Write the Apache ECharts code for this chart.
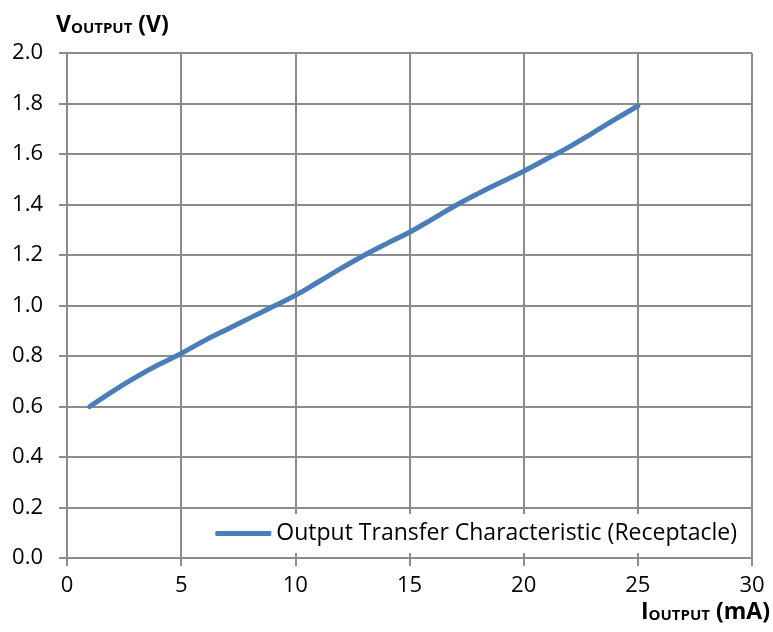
<!DOCTYPE html>
<html>
<head>
<meta charset="utf-8">
<script src="https://cdn.jsdelivr.net/npm/echarts@6/dist/echarts.min.js"></script>
<style>
  html, body { margin: 0; padding: 0; background: #fff; }
  #chart { width: 773px; height: 632px; }
</style>
</head>
<body>
<div id="chart"></div>
<script>
// data
const iOutput = [1, 2, 3, 4, 5, 6, 7, 8, 9, 10, 11, 12, 13, 14, 15, 16, 17, 18, 19, 20, 21, 22, 23, 24, 25];
const vOutput = [0.60, 0.66, 0.715, 0.765, 0.81, 0.86, 0.905, 0.95, 0.995, 1.04, 1.093, 1.147, 1.198, 1.245, 1.29, 1.342, 1.395, 1.443, 1.488, 1.532, 1.58, 1.628, 1.682, 1.737, 1.79];
const seriesName = 'Output Transfer Characteristic (Receptacle)';

const FONT = 'Open Sans';
const gridColor = '#8c8c8c';

const titleRich = {
    a: { fontFamily: FONT, fontSize: 23, fontWeight: 'bold', color: '#000', padding: [0, 0, 7, 0] },
    b: { fontFamily: FONT, fontSize: 15, fontWeight: 'bold', color: '#000' }
};

const chart = echarts.init(document.getElementById('chart'));
const option = {
    textStyle: { fontFamily: FONT },
    grid: { left: 67, right: 21, top: 53, bottom: 74 },
    legend: {
        data: [seriesName],
        right: 28,
        bottom: 79,
        backgroundColor: '#fff',
        padding: [8, 8, 8, 8],
        itemWidth: 56,
        itemHeight: 5,
        icon: 'roundRect',
        textStyle: { fontFamily: FONT, fontSize: 23, color: '#000' }
    },
    graphic: [
        {
            type: 'text',
            left: 56,
            top: 14,
            style: { text: '{a|V}{b|OUTPUT}{a| (V)}', rich: titleRich }
        },
        {
            type: 'text',
            right: 3,
            top: 601,
            style: { text: '{a|I}{b|OUTPUT}{a| (mA)}', rich: titleRich }
        }
    ],
    xAxis: {
        type: 'value',
        min: 0,
        max: 30,
        interval: 5,
        axisLine: { show: true, lineStyle: { color: gridColor, width: 2 } },
        axisTick: { show: true, length: 8, lineStyle: { color: gridColor, width: 2 } },
        axisLabel: { fontSize: 22, color: '#000', margin: 17 },
        splitLine: { show: true, lineStyle: { color: gridColor, width: 2 } }
    },
    yAxis: {
        type: 'value',
        min: 0,
        max: 2,
        interval: 0.2,
        axisLine: { show: true, lineStyle: { color: gridColor, width: 2 } },
        axisTick: { show: true, length: 8, lineStyle: { color: gridColor, width: 2 } },
        axisLabel: {
            fontSize: 22,
            color: '#000',
            margin: 24,
            formatter: v => v.toFixed(1)
        },
        splitLine: { show: true, lineStyle: { color: gridColor, width: 2 } }
    },
    series: [
        {
            name: seriesName,
            type: 'line',
            data: iOutput.map((x, i) => [x, vOutput[i]]),
            smooth: 0.4,
            symbol: 'none',
            lineStyle: { color: '#4a7ebb', width: 5, cap: 'round' },
            itemStyle: { color: '#4a7ebb' }
        }
    ]
};
chart.setOption(option);

window.addEventListener('resize', () => {
    chart.resize();
});
</script>
</body>
</html>
